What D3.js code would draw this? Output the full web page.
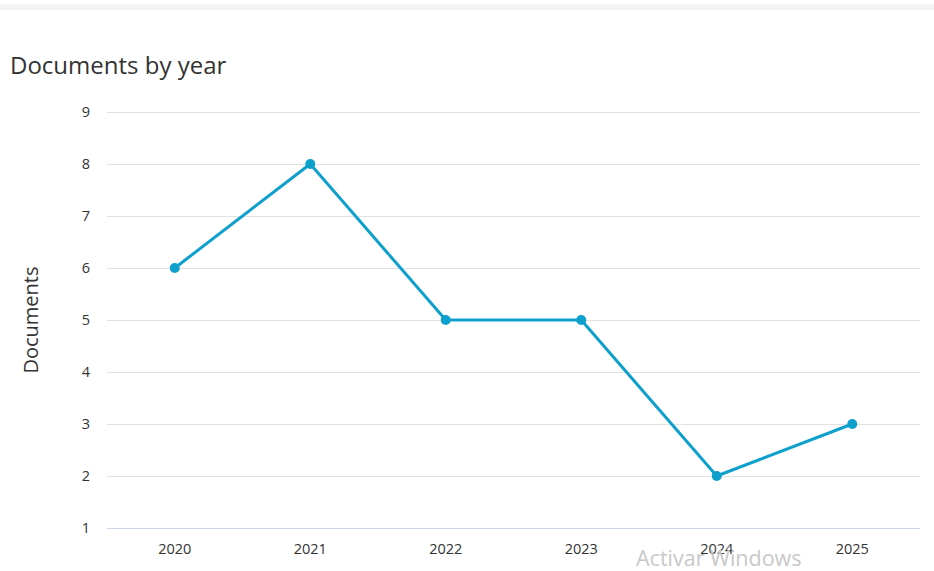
<!DOCTYPE html>
<html>
<head>
<meta charset="utf-8">
<script src="https://cdn.jsdelivr.net/npm/d3@7"></script>
<style>
  body { margin: 0; background: #fff; }
  svg text { font-family: "Open Sans", "Noto Sans", sans-serif; fill: #333; }
  .gridline { stroke: #e2e2e2; stroke-width: 1; }
  .baseline { stroke: #ccd6eb; stroke-width: 1; }
  .tick-label { font-size: 14.5px; }
</style>
</head>
<body>
<div id="plot"></div>
<script>
const CANVAS_WIDTH  = 934;
const CANVAS_HEIGHT = 571;

const PLOT_LEFT   = 107;
const PLOT_RIGHT  = 920;
const PLOT_TOP    = 112;
const PLOT_BOTTOM = 528;

const LINE_COLOR = "#0ea0cd";

const YEARS = ["2020", "2021", "2022", "2023", "2024", "2025"];
const DOCUMENTS = [6, 8, 5, 5, 2, 3];
const Y_TICKS = [1, 2, 3, 4, 5, 6, 7, 8, 9];

var svg = d3.select("#plot")
            .append("svg")
            .attr("width", CANVAS_WIDTH)
            .attr("height", CANVAS_HEIGHT);

// top grey band
svg.append("rect")
   .attr("x", 0).attr("y", 4)
   .attr("width", CANVAS_WIDTH).attr("height", 6)
   .attr("fill", "#f4f4f4");

svg.append("text")
   .attr("x", 10)
   .attr("y", 74)
   .style("font-size", "24px")
   .text("Documents by year");

var xScale = d3.scaleBand()
               .domain(YEARS)
               .range([PLOT_LEFT, PLOT_RIGHT]);

var yScale = d3.scaleLinear()
               .domain([1, 9])
               .range([PLOT_BOTTOM, PLOT_TOP]);

// gridlines + y labels
Y_TICKS.forEach(function(t) {
    svg.append("line")
       .attr("class", t == 1 ? "baseline" : "gridline")
       .attr("x1", PLOT_LEFT).attr("x2", PLOT_RIGHT)
       .attr("y1", yScale(t) + 0.5).attr("y2", yScale(t) + 0.5);
    svg.append("text")
       .attr("class", "tick-label")
       .attr("text-anchor", "end")
       .attr("x", 90)
       .attr("y", yScale(t) + 5)
       .text(t);
});

// x labels
YEARS.forEach(function(y) {
    svg.append("text")
       .attr("class", "tick-label")
       .attr("text-anchor", "middle")
       .attr("x", xScale(y) + xScale.bandwidth() / 2)
       .attr("y", 554)
       .text(y);
});

svg.append("text")
   .attr("text-anchor", "middle")
   .attr("transform", "translate(38," + ((PLOT_TOP + PLOT_BOTTOM) / 2) + ") rotate(-90)")
   .style("font-size", "20px")
   .text("Documents");

var lineGenerator = d3.line()
                      .x((d, i) => xScale(YEARS[i]) + xScale.bandwidth() / 2)
                      .y(d => yScale(d));

svg.append("path")
   .attr("d", lineGenerator(DOCUMENTS))
   .attr("fill", "none")
   .attr("stroke", LINE_COLOR)
   .attr("stroke-width", 3)
   .attr("stroke-linejoin", "round");

svg.selectAll("circle")
   .data(DOCUMENTS)
   .enter()
   .append("circle")
   .attr("cx", (d, i) => xScale(YEARS[i]) + xScale.bandwidth() / 2)
   .attr("cy", d => yScale(d))
   .attr("r", 5)
   .attr("fill", LINE_COLOR);

// OS watermark visible in the screenshot
svg.append("text")
   .attr("x", 636)
   .attr("y", 566)
   .style("font-size", "21.5px")
   .style("fill", "#c8c8c8")
   .text("Activar Windows");
</script>
</body>
</html>
